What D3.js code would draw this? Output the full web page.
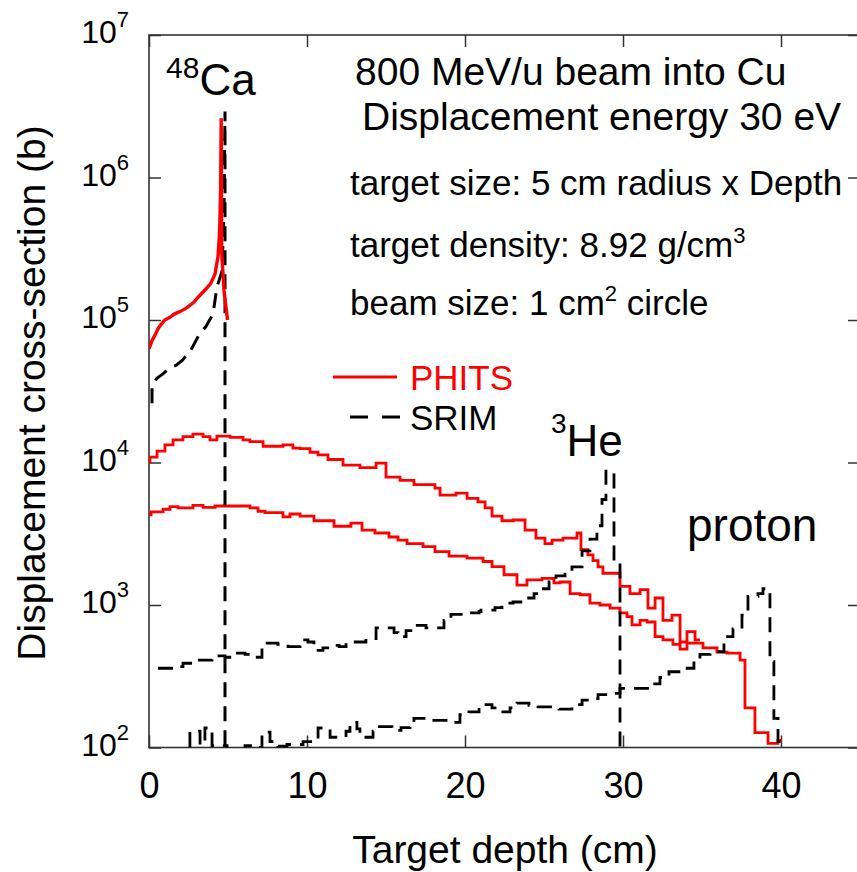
<!DOCTYPE html>
<html>
<head>
<meta charset="utf-8">
<script src="https://cdn.jsdelivr.net/npm/d3@7"></script>
<style>
  body { margin: 0; background: #fff; }
  text { font-family: "Liberation Sans", Arial, Helvetica, sans-serif; }
</style>
</head>
<body>
<div id="chart"></div>
<script>
// values: [depth (cm), cross-section (b)]
var xTicks = [0, 10, 20, 30, 40];
var yTicks = [1e2, 1e3, 1e4, 1e5, 1e6, 1e7];
var yExp = ["2", "3", "4", "5", "6", "7"];

// 48Ca, fine bins
var phitsCa = [[0.0, 6.3e4], [0.2, 7.2e4], [0.4, 7.9e4], [0.6, 8.8e4], [0.8, 9.4e4], [1.0, 1.0e5],
    [1.3, 1.04e5], [1.6, 1.1e5], [2.0, 1.15e5], [2.4, 1.22e5], [2.8, 1.32e5], [3.2, 1.48e5],
    [3.6, 1.65e5], [3.9, 1.8e5], [4.18, 2.1e5], [4.37, 2.8e5], [4.47, 4.2e5], [4.53, 8e5],
    [4.57, 2.6e6], [4.6, 3.0e5], [4.75, 1.6e5], [4.97, 1.0e5]];
var srimCa = [[0.19, 2.6e4], [0.19, 3.5e4], [0.5, 3.9e4], [0.9, 4.2e4], [1.3, 4.6e4], [1.7, 4.8e4],
    [2.1, 5.2e4], [2.6, 6.0e4], [3.2, 8.0e4], [3.6, 9.0e4], [4.05, 1.1e5], [4.3, 1.7e5],
    [4.62, 2.2e5], [4.75, 6e5], [4.81, 2.9e6], [4.81, 50]];

// 3He, histogram (bin start, value)
var phitsHe = [[0, 1.0e4], [0.06, 1.09e4], [0.51, 1.2e4], [1.01, 1.33e4], [1.52, 1.44e4], [2.15, 1.52e4],
    [2.78, 1.58e4], [3.42, 1.52e4], [3.86, 1.44e4], [4.30, 1.53e4], [5.13, 1.5e4], [5.95, 1.44e4],
    [6.39, 1.4e4], [7.22, 1.3e4], [8.48, 1.33e4], [9.11, 1.26e4], [9.56, 1.25e4], [10.19, 1.18e4],
    [10.70, 1.13e4], [11.33, 1.05e4], [12.28, 9.6e3], [13.35, 9.2e3], [14.37, 9.9e3], [15.0, 7.9e3],
    [15.89, 7.5e3], [16.77, 7.0e3], [18.10, 6.6e3], [18.42, 5.9e3], [19.43, 6.1e3], [20.13, 5.6e3],
    [20.82, 5.3e3], [21.27, 4.8e3], [21.71, 4.2e3], [22.34, 3.9e3], [23.04, 3.95e3], [23.80, 3.35e3],
    [24.49, 2.95e3], [25.06, 2.7e3], [25.51, 2.85e3], [26.20, 2.95e3], [27.09, 3.2e3], [27.34, 2.45e3],
    [27.78, 2.25e3], [28.10, 2.05e3], [28.42, 1.85e3], [28.73, 1.67e3], [29.81, 1.35e3], [30.44, 1.2e3],
    [31.08, 1.28e3], [31.58, 9.5e2], [32.03, 1.12e3], [32.53, 7.8e2], [33.10, 8.5e2], [33.61, 5.5e2],
    [34.05, 6.5e2], [34.56, 5.7e2], [34.87, 5.7e2]];
var srimHe = [[0.57, 3.6e2], [1.52, 3.7e2], [2.15, 3.9e2], [2.78, 4.1e2], [3.99, 4.4e2], [4.81, 4.3e2],
    [5.44, 4.6e2], [6.08, 4.5e2], [6.58, 4.3e2], [7.15, 5.4e2], [8.16, 5.3e2], [8.80, 5.1e2],
    [9.56, 5.7e2], [10.06, 5.5e2], [10.44, 4.8e2], [11.01, 5.0e2], [11.58, 5.2e2], [12.03, 5.1e2],
    [12.47, 5.5e2], [13.73, 5.8e2], [14.37, 6.9e2], [15.51, 6.4e2], [15.76, 6.0e2], [16.27, 6.6e2],
    [16.77, 7.2e2], [17.53, 6.9e2], [18.67, 7.8e2], [19.11, 8.6e2], [20.0, 8.8e2], [20.89, 9.0e2],
    [21.01, 9.2e2], [21.90, 9.6e2], [22.34, 1.03e3], [23.04, 1.05e3], [23.73, 1.12e3], [24.37, 1.2e3],
    [24.81, 1.3e3], [25.32, 1.45e3], [25.76, 1.6e3], [26.33, 1.7e3], [26.77, 1.85e3], [27.41, 2.4e3],
    [27.91, 2.9e3], [28.35, 3.6e3], [28.67, 5.5e3], [28.92, 8.7e3], [29.43, 2.0e3], [29.81, 50]];

// proton, histogram
var phitsP = [[0, 4.3e3], [0.13, 4.5e3], [0.89, 4.7e3], [1.33, 4.9e3], [1.84, 4.8e3], [2.78, 5.0e3],
    [3.42, 4.85e3], [4.18, 4.95e3], [6.39, 4.8e3], [6.90, 4.55e3], [7.34, 4.45e3], [8.48, 4.15e3],
    [8.92, 4.35e3], [9.56, 4.2e3], [10.44, 3.9e3], [11.71, 3.57e3], [12.78, 3.75e3], [13.48, 3.35e3],
    [14.30, 3.2e3], [15.19, 3.0e3], [15.76, 2.85e3], [16.33, 2.7e3], [17.34, 2.57e3], [18.10, 2.37e3],
    [18.99, 2.2e3], [20.13, 2.13e3], [21.14, 2.02e3], [21.71, 1.86e3], [22.47, 1.63e3], [23.29, 1.38e3],
    [23.92, 1.5e3], [24.87, 1.54e3], [25.63, 1.43e3], [26.01, 1.45e3], [26.65, 1.2e3], [27.28, 1.18e3],
    [27.91, 1.03e3], [28.54, 1.0e3], [29.18, 9.5e2], [29.81, 8.8e2], [30.25, 8.3e2], [30.57, 7.25e2],
    [31.08, 7.8e2], [31.52, 7.6e2], [32.03, 6.0e2], [32.53, 5.7e2], [33.16, 5.3e2], [33.61, 4.9e2],
    [34.05, 5.4e2], [35.06, 5.0e2], [35.95, 4.67e2], [36.58, 4.6e2], [37.41, 4.1e2], [37.72, 1.9e2],
    [38.35, 1.27e2], [39.18, 1.07e2], [39.81, 1.12e2], [40.06, 1.12e2]];
var srimP = [[0, 9e1], [2.59, 1.3e2], [3.23, 1.05e2], [3.54, 1.37e2], [3.99, 1.03e2], [4.94, 9.5e1],
    [6.08, 1.03e2], [6.52, 1.0e2], [7.15, 1.28e2], [7.66, 1.1e2], [8.16, 1.02e2], [8.73, 1.05e2],
    [9.75, 1.1e2], [10.38, 1.15e2], [10.70, 1.37e2], [11.46, 1.18e2], [12.47, 1.3e2], [12.72, 1.5e2],
    [13.16, 1.35e2], [13.35, 1.18e2], [14.18, 1.3e2], [14.37, 1.4e2], [15.38, 1.32e2], [15.95, 1.38e2],
    [16.52, 1.45e2], [16.77, 1.6e2], [17.85, 1.55e2], [18.80, 1.5e2], [19.68, 1.7e2], [20.25, 1.78e2],
    [20.89, 1.9e2], [21.14, 2.0e2], [21.71, 1.9e2], [21.90, 1.78e2], [22.85, 1.9e2], [23.29, 2.05e2],
    [24.05, 1.98e2], [24.62, 1.93e2], [25.76, 1.9e2], [25.95, 1.86e2], [26.77, 2.0e2], [27.41, 2.15e2],
    [27.97, 2.2e2], [28.42, 2.35e2], [29.11, 2.4e2], [29.81, 2.6e2], [31.90, 2.8e2], [32.34, 3.1e2],
    [32.91, 3.4e2], [33.86, 3.6e2], [34.49, 4.2e2], [34.87, 4.5e2], [35.51, 4.7e2], [36.39, 6.0e2],
    [36.96, 6.8e2], [37.53, 8.5e2], [37.91, 1.15e3], [38.54, 1.2e3], [38.86, 1.3e3], [39.30, 4.0e2],
    [39.55, 1.6e2], [39.81, 1.1e2], [40.0, 50]];

var w = 857, h = 872;
var pLeft = 149, pRight = 860, pTop = 35, pBottom = 747.5;

var x = d3.scaleLinear().domain([0, 45]).range([pLeft, pRight]);
var y = d3.scaleLog().domain([1e2, 1e7]).range([pBottom, pTop]);

var svg = d3.select("#chart").append("svg")
    .attr("width", w)
    .attr("height", h);

svg.append("clipPath").attr("id", "plot")
  .append("rect")
    .attr("x", pLeft).attr("y", pTop)
    .attr("width", pRight - pLeft).attr("height", pBottom - pTop);

// ticks, all pointing inward
function inner(axis) {
    return axis.tickSizeInner(-12).tickSizeOuter(0);
}
var gB = svg.append("g").attr("transform", "translate(0," + pBottom + ")")
    .call(inner(d3.axisBottom(x)).tickValues(xTicks).tickPadding(25).tickFormat(d3.format("d")));
var gT = svg.append("g").attr("transform", "translate(0," + pTop + ")")
    .call(inner(d3.axisTop(x)).tickValues(xTicks).tickFormat(""));
var gL = svg.append("g").attr("transform", "translate(" + pLeft + ",0)")
    .call(inner(d3.axisLeft(y)).tickValues(yTicks).tickFormat(""));
var gR = svg.append("g").attr("transform", "translate(" + pRight + ",0)")
    .call(inner(d3.axisRight(y)).tickValues(yTicks).tickFormat(""));

[gB, gT, gL, gR].forEach(function(g) {
    g.select(".domain").remove();
    g.selectAll(".tick line").attr("stroke", "#333").attr("stroke-width", 1.5);
});
gB.selectAll(".tick text")
    .attr("font-family", "Liberation Sans, Arial, sans-serif")
    .attr("font-size", 36)
    .attr("fill", "#000");

// frame
svg.append("rect")
    .attr("x", pLeft).attr("y", pTop)
    .attr("width", pRight - pLeft).attr("height", pBottom - pTop)
    .attr("fill", "none")
    .attr("stroke", "#333")
    .attr("stroke-width", 1.6);

// y tick labels 10^n
var yl = svg.append("g").selectAll("text")
    .data(yTicks)
    .enter()
    .append("text")
    .attr("x", 129)
    .attr("y", function(d) { return y(d) + 8; })
    .attr("text-anchor", "end")
    .attr("font-size", 32);
yl.append("tspan").text("10");
yl.append("tspan")
    .attr("dy", -16)
    .attr("font-size", 22)
    .text(function(d, i) { return yExp[i]; });

// curves
var step = d3.line()
    .x(function(d) { return x(d[0]); })
    .y(function(d) { return y(d[1]); })
    .curve(d3.curveStepAfter);
var lin = d3.line()
    .x(function(d) { return x(d[0]); })
    .y(function(d) { return y(d[1]); });

var plot = svg.append("g").attr("clip-path", "url(#plot)");

var curves = [
    { data: phitsHe, gen: step, color: "#ff0000", dash: null, width: 2.8 },
    { data: phitsP, gen: step, color: "#ff0000", dash: null, width: 2.8 },
    { data: srimHe, gen: step, color: "#000", dash: "15,9", width: 2.8 },
    { data: srimP, gen: step, color: "#000", dash: "15,9", width: 2.8 },
    { data: srimCa, gen: lin, color: "#000", dash: "15,9", width: 3 },
    { data: phitsCa, gen: lin, color: "#ff0000", dash: null, width: 3.4 }
];

plot.selectAll("path.curve")
    .data(curves)
    .enter()
    .append("path")
    .attr("class", "curve")
    .attr("d", function(d) { return d.gen(d.data); })
    .attr("fill", "none")
    .attr("stroke", function(d) { return d.color; })
    .attr("stroke-width", function(d) { return d.width; })
    .attr("stroke-dasharray", function(d) { return d.dash; });

// legend
svg.append("line")
    .attr("x1", 333).attr("x2", 397).attr("y1", 377).attr("y2", 377)
    .attr("stroke", "#ff0000").attr("stroke-width", 2.8);
svg.append("text").attr("x", 410).attr("y", 390)
    .attr("font-size", 35).attr("fill", "#ff0000").text("PHITS");
svg.append("line")
    .attr("x1", 350).attr("x2", 400).attr("y1", 417).attr("y2", 417)
    .attr("stroke", "#000").attr("stroke-width", 2.8)
    .attr("stroke-dasharray", "18,14");
svg.append("text").attr("x", 410).attr("y", 430)
    .attr("font-size", 35).text("SRIM");

// annotations
function label(xp, yp, size, sup, main, supSize, supDy) {
    var t = svg.append("text").attr("x", xp).attr("y", yp).attr("font-size", size);
    t.append("tspan").attr("font-size", supSize).attr("dy", -supDy).text(sup);
    t.append("tspan").attr("dy", supDy).text(main);
}
label(166, 95, 44, "48", "Ca", 30, 17);
label(551, 456, 44, "3", "He", 28, 23);

svg.append("text").attr("x", 687).attr("y", 541).attr("font-size", 46).text("proton");

svg.append("text").attr("x", 355).attr("y", 85).attr("font-size", 39).text("800 MeV/u beam into Cu");
svg.append("text").attr("x", 362).attr("y", 130).attr("font-size", 39).text("Displacement energy 30 eV");
svg.append("text").attr("x", 350).attr("y", 195).attr("font-size", 35).text("target size: 5 cm radius x Depth");

var t1 = svg.append("text").attr("x", 350).attr("y", 257).attr("font-size", 35);
t1.append("tspan").text("target density: 8.92 g/cm");
t1.append("tspan").attr("dy", -14).attr("font-size", 22).text("3");

var t2 = svg.append("text").attr("x", 350).attr("y", 315).attr("font-size", 35);
t2.append("tspan").text("beam size: 1 cm");
t2.append("tspan").attr("dy", -14).attr("font-size", 22).text("2");
t2.append("tspan").attr("dy", 14).text(" circle");

// axis titles
svg.append("text")
    .attr("x", 505).attr("y", 863)
    .attr("text-anchor", "middle")
    .attr("font-size", 39)
    .text("Target depth (cm)");
svg.append("text")
    .attr("transform", "translate(45,393) rotate(-90)")
    .attr("text-anchor", "middle")
    .attr("font-size", 39)
    .text("Displacement cross-section (b)");
</script>
</body>
</html>
